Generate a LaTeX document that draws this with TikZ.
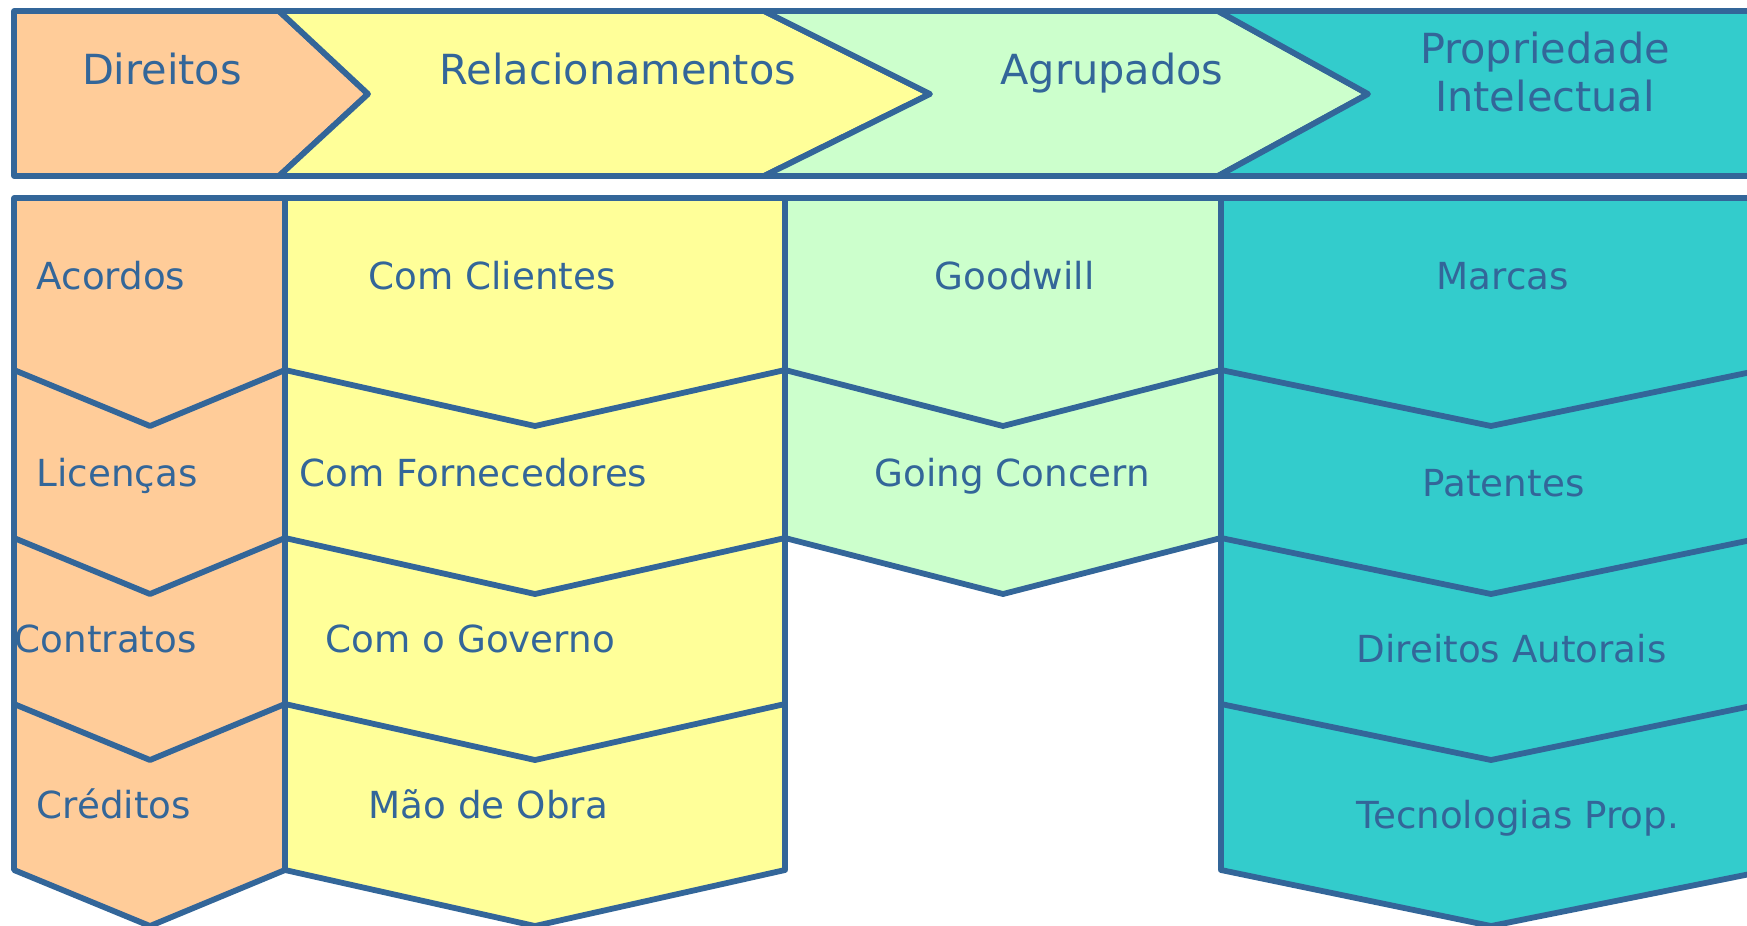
\documentclass[tikz,border=0pt]{standalone}
\usepackage{fontspec}
\usepackage{xcolor}
\newfontfamily\chartfont{DejaVu Sans}
\definecolor{edgeblue}{HTML}{336699}
\definecolor{fillorange}{HTML}{FFCC99}
\definecolor{fillyellow}{HTML}{FFFF99}
\definecolor{fillgreen}{HTML}{CCFFCC}
\definecolor{fillteal}{HTML}{33CCCC}

\begin{document}
\begin{tikzpicture}[x=0.1mm, y=-0.1mm, line join=round]
	% Define styles for shapes and labels
	\tikzset{
		band/.style={draw=edgeblue, line width=1.65pt},
		headlbl/.style={
			text=edgeblue,
			font=\chartfont\fontsize{11.8}{13.9}\selectfont,
			inner sep=0pt,
			align=center
		},
		itemlbl/.style={
			text=edgeblue,
			font=\chartfont\fontsize{10.6}{13}\selectfont,
			inner sep=0pt,
			anchor=base west
		}
	}
	\useasboundingbox (0,0) rectangle (1747,925);
	\clip (0,0) rectangle (1747,925);

	% Header arrows
	\draw[band, fill=fillorange] (14,11) -- (279,11) -- (368,94) -- (279,176) -- (14,176) -- cycle;
	\draw[band, fill=fillyellow] (279,11) -- (764,11) -- (930,94) -- (764,176) -- (279,176) -- (368,94) -- cycle;
	\draw[band, fill=fillgreen] (764,11) -- (1218,11) -- (1368,94) -- (1218,176) -- (764,176) -- (930,94) -- cycle;
	\draw[band, fill=fillteal] (1218,11) -- (1770,11) -- (1770,176) -- (1218,176) -- (1368,94) -- cycle;

	\node[headlbl, anchor=base] (direitosHd) at (162,84) {Direitos};
	\node[headlbl, anchor=base] (relacHd) at (618,84) {Relacionamentos};
	\node[headlbl, anchor=base] (agrupHd) at (1112,84) {Agrupados};
	\node[headlbl] (propHd) at (1545,72) {Propriedade\\Intelectual};

	% Column bodies
	\draw[band, fill=fillorange] (14,198) -- (285,198) -- (285,870) -- (150,926) -- (14,870) -- cycle;
	\draw[band, fill=fillyellow] (285,198) -- (785,198) -- (785,870) -- (535,926) -- (285,870) -- cycle;
	\draw[band, fill=fillgreen] (785,198) -- (1221,198) -- (1221,538) -- (1003,594) -- (785,538) -- cycle;
	\draw[band, fill=fillteal] (1221,198) -- (1770,198) -- (1770,870) -- (1491,926) -- (1221,870) -- cycle;

	% internal chevron lines
	\draw[band] (14,370) -- (150,426) -- (285,370);
	\draw[band] (14,538) -- (150,594) -- (285,538);
	\draw[band] (14,704) -- (150,760) -- (285,704);

	\draw[band] (285,370) -- (535,426) -- (785,370);
	\draw[band] (285,538) -- (535,594) -- (785,538);
	\draw[band] (285,704) -- (535,760) -- (785,704);

	\draw[band] (785,370) -- (1003,426) -- (1221,370);

	\draw[band] (1221,370) -- (1491,426) -- (1761,370);
	\draw[band] (1221,538) -- (1491,594) -- (1761,538);
	\draw[band] (1221,704) -- (1491,760) -- (1761,704);

	% Item labels
	\node[itemlbl] (acordos) at (36,289) {Acordos};
	\node[itemlbl] (licencas) at (36,486) {Licenças};
	\node[itemlbl] (contratos) at (14,652) {Contratos};
	\node[itemlbl] (creditos) at (36,818) {Créditos};

	\node[itemlbl] (clientes) at (368,289) {Com Clientes};
	\node[itemlbl] (fornec) at (299,486) {Com Fornecedores};
	\node[itemlbl] (governo) at (325,652) {Com o Governo};
	\node[itemlbl] (maoobra) at (368,818) {Mão de Obra};

	\node[itemlbl] (goodwill) at (934,289) {Goodwill};
	\node[itemlbl] (concern) at (874,486) {Going Concern};

	\node[itemlbl] (marcas) at (1436,289) {Marcas};
	\node[itemlbl] (patentes) at (1422,496) {Patentes};
	\node[itemlbl] (autorais) at (1356,662) {Direitos Autorais};
	\node[itemlbl] (tecnol) at (1356,828) {Tecnologias Prop.};
\end{tikzpicture}
\end{document}
